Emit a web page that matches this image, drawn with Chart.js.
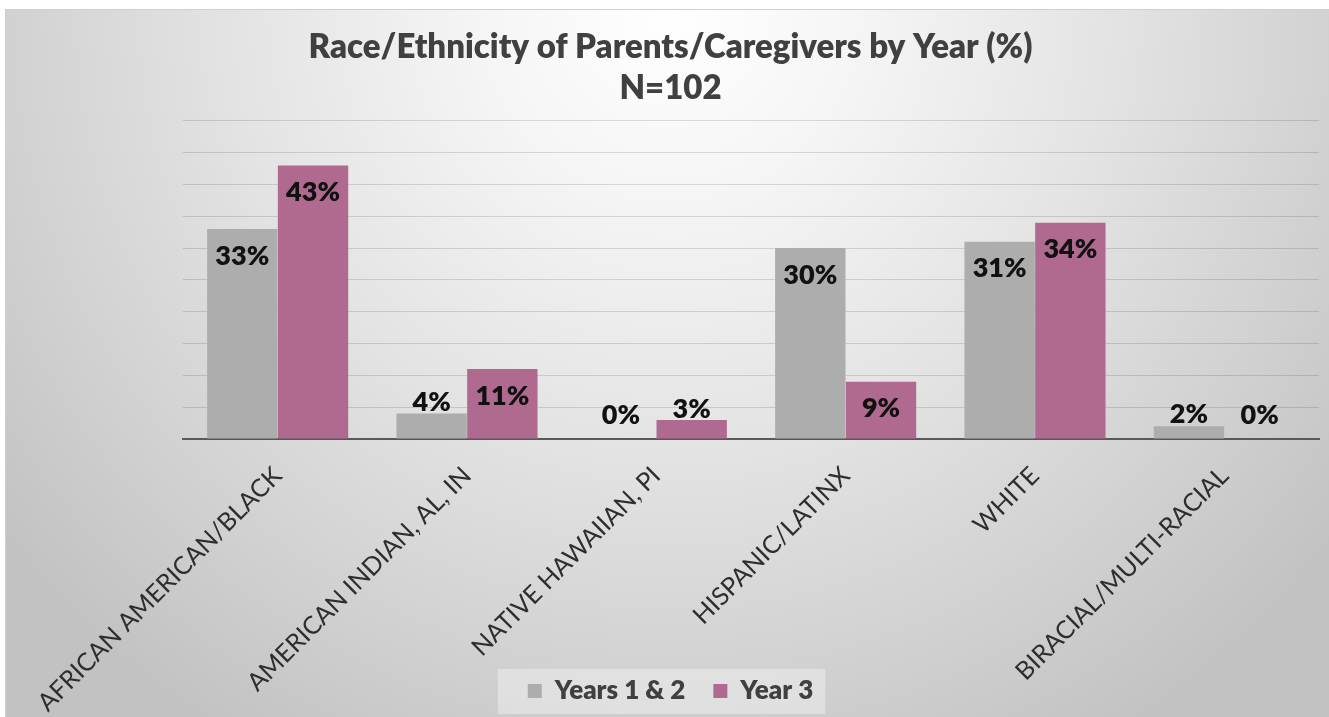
<!DOCTYPE html>
<html>
<head>
<meta charset="utf-8">
<script src="https://cdn.jsdelivr.net/npm/chart.js@4.4.1/dist/chart.umd.min.js"></script>
<style>
  html, body { margin: 0; padding: 0; background: #ffffff; }
  #wrap { position: relative; width: 1329px; height: 717px; overflow: hidden; }
  #frame {
    position: absolute; left: 5px; top: 9px; width: 1330px; height: 712px;
    border-top: 1px solid #cfcfcf; border-left: 1px solid #cfcfcf;
    background: radial-gradient(ellipse 64% 120% at 50% 0%, #ffffff 0%, #f5f5f5 22%, #e3e3e3 52%, #d0d0d0 80%, #c2c2c2 100%);
  }
  #chart { position: absolute; left: 0; top: 0; }
</style>
</head>
<body>
<div id="wrap">
  <div id="frame"></div>
  <canvas id="chart" width="1329" height="717"></canvas>
</div>
<script>
// Categories and series values (percent)
const categories = [
  'AFRICAN AMERICAN/BLACK',
  'AMERICAN INDIAN, AL, IN',
  'NATIVE HAWAIIAN, PI',
  'HISPANIC/LATINX',
  'WHITE',
  'BIRACIAL/MULTI-RACIAL'
];
const seriesNames = ['Years 1 & 2', 'Year 3'];
const years12 = [33, 4, 0, 30, 31, 2];
const year3 = [43, 11, 3, 9, 34, 0];
const titleLines = ['Race/Ethnicity of Parents/Caregivers by Year (%)', 'N=102'];
const yMax = 50;
const yStep = 5;

const FONT = "Lato, Carlito, Calibri, 'Open Sans', sans-serif";
const TEXT_DARK = '#404040';

// Value labels: inside the top of tall bars, just above short ones
const valueLabels = {
  id: 'valueLabels',
  afterDatasetsDraw(chart) {
    const ctx = chart.ctx;
    ctx.save();
    ctx.font = '800 27px ' + FONT;
    ctx.fillStyle = '#111111';
    ctx.textAlign = 'center';
    ctx.textBaseline = 'middle';
    chart.data.datasets.forEach((ds, di) => {
      const meta = chart.getDatasetMeta(di);
      meta.data.forEach((bar, i) => {
        const v = ds.data[i];
        const h = bar.base - bar.y;
        let cy;
        if (h >= 40) cy = bar.y + 27;
        else cy = Math.min(bar.y - 11, bar.base - 24);
        ctx.fillText(v + '%', bar.x, cy);
      });
    });
    ctx.restore();
  }
};

// Soft panel behind the legend entries
const legendPanel = {
  id: 'legendPanel',
  beforeDraw(chart) {
    const lg = chart.legend;
    if (!lg || !lg.legendHitBoxes || !lg.legendHitBoxes.length) return;
    const boxes = lg.legendHitBoxes;
    const left = Math.min(...boxes.map(b => b.left)) - 30;
    const right = Math.max(...boxes.map(b => b.left + b.width)) + 12;
    const cy = boxes[0].top + boxes[0].height / 2;
    const ctx = chart.ctx;
    ctx.save();
    ctx.fillStyle = 'rgba(255,255,255,0.35)';
    ctx.fillRect(left, cy - 22, right - left, 45);
    ctx.restore();
  }
};

function draw() {
  new Chart(document.getElementById('chart'), {
    type: 'bar',
    data: {
      labels: categories,
      datasets: [
        { label: seriesNames[0], data: years12, backgroundColor: '#adadad', borderWidth: 0 },
        { label: seriesNames[1], data: year3, backgroundColor: '#b0698f', borderWidth: 0 }
      ]
    },
    options: {
      responsive: false,
      animation: false,
      devicePixelRatio: 1,
      layout: { padding: { left: 22, right: 10, top: 27, bottom: 3 } },
      datasets: { bar: { categoryPercentage: 0.747, barPercentage: 0.995 } },
      scales: {
        x: {
          grid: { display: false, drawTicks: false },
          border: { display: true, color: '#595959', width: 2 },
          ticks: {
            autoSkip: false, maxRotation: 45, minRotation: 45,
            padding: 22,
            color: '#2e2e2e',
            font: { family: FONT, size: 25 }
          },
          afterFit(s) {
            s.height = 211;
            // let the slanted labels run down past the legend row
            s._computeLabelArea = () => undefined;
          }
        },
        y: {
          min: 0, max: yMax,
          ticks: { stepSize: yStep, display: false },
          grid: { color: 'rgba(0,0,0,0.13)', lineWidth: 1, drawTicks: false },
          border: { display: false },
          afterFit(s) { s.width = 161; }
        }
      },
      plugins: {
        title: {
          display: true,
          text: titleLines,
          color: TEXT_DARK,
          font: { family: FONT, size: 33, weight: '800', lineHeight: 1.24 },
          padding: { top: 0, bottom: 12 }
        },
        legend: {
          position: 'bottom',
          labels: {
            boxWidth: 14, boxHeight: 14,
            color: TEXT_DARK,
            font: { family: FONT, size: 26, weight: '800' },
            padding: 28
          }
        },
        tooltip: { enabled: false }
      }
    },
    plugins: [legendPanel, valueLabels]
  });
}

if (document.fonts && document.fonts.load) {
  Promise.all([
    document.fonts.load('800 33px Lato'),
    document.fonts.load('25px Lato')
  ]).then(draw, draw);
} else {
  draw();
}
</script>
</body>
</html>
